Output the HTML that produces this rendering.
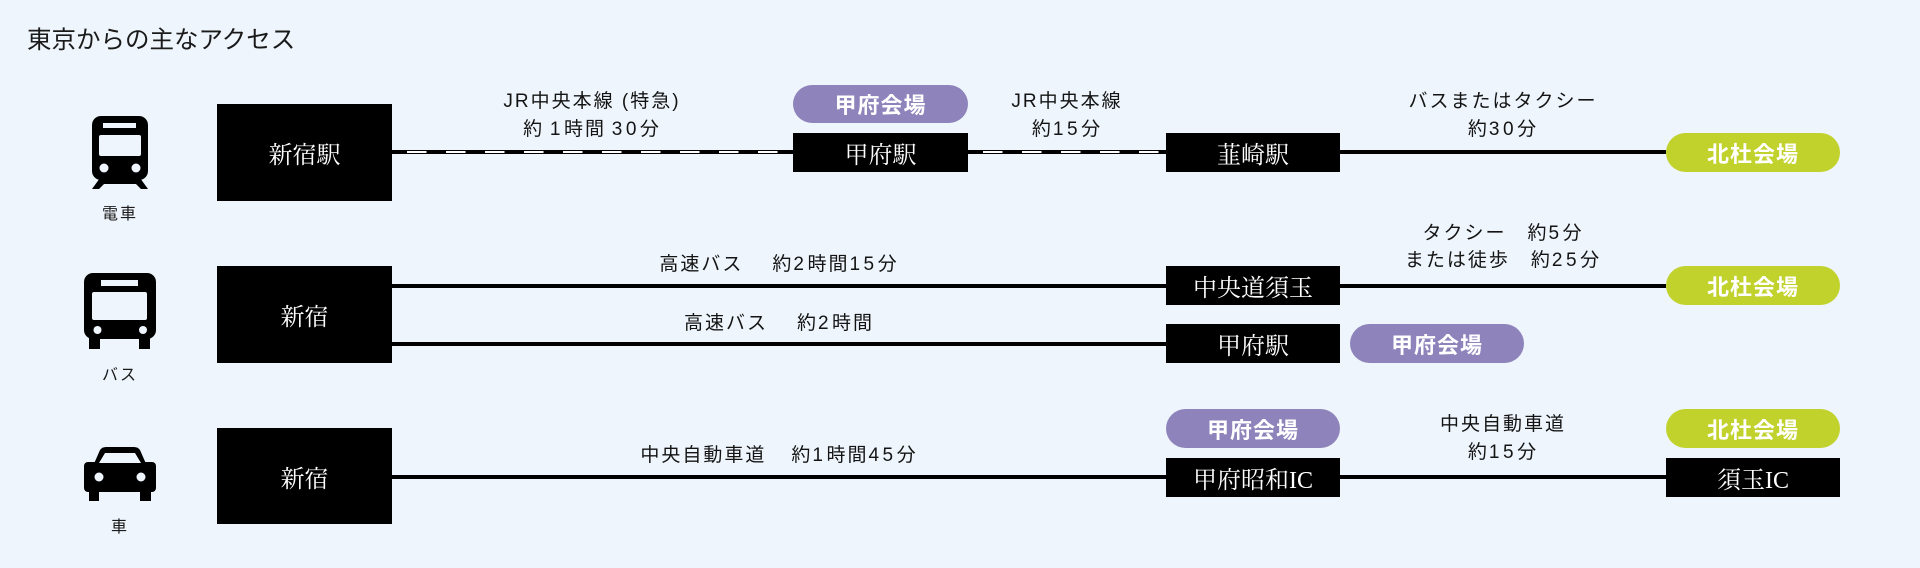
<!DOCTYPE html>
<html lang="ja">
<head>
<meta charset="utf-8">
<style>
  html,body{margin:0;padding:0;}
  body{width:1920px;height:568px;background:#eef5fc;position:relative;overflow:hidden;
       font-family:"Liberation Sans","Noto Sans CJK JP",sans-serif;color:#1e1e1e;}
  .abs{position:absolute;}
  .title{left:27px;top:25px;font-size:24.5px;line-height:32px;white-space:nowrap;color:#1a1a1a;}
  .mode{width:80px;text-align:center;font-size:16px;line-height:20px;letter-spacing:2px;color:#1a1a1a;}
  .box{position:absolute;background:#000;color:#fff;display:flex;align-items:center;justify-content:center;
       font-family:"Liberation Serif","Noto Serif CJK SC",serif;font-size:24px;white-space:nowrap;}
  .pill{position:absolute;display:flex;align-items:center;justify-content:center;border-radius:20px;color:#fff;
       font-family:"Liberation Sans","Noto Sans CJK JP",sans-serif;font-weight:bold;font-size:22px;letter-spacing:1px;white-space:nowrap;}
  .purple{background:#8e84bb;}
  .lime{background:#c1d22c;}
  .lbl{position:absolute;width:500px;text-align:center;font-size:19px;line-height:28px;letter-spacing:2px;white-space:nowrap;color:#141414;}
  .n{letter-spacing:3.5px;}
  .sp{display:inline-block;width:8px;}
  .line{position:absolute;height:4px;background:#000;}
  .dash{position:absolute;height:4px;background:#000;}
  .dash::after{content:"";position:absolute;left:0;right:0;top:1px;height:2px;
       background:repeating-linear-gradient(90deg,transparent 0 19.5px,#fff 19.5px 39px);
       background-position:-4.5px 0;}
</style>
</head>
<body>

<div class="abs title">東京からの主なアクセス</div>

<!-- icons -->
<svg class="abs" style="left:0;top:0" width="1920" height="568" viewBox="0 0 1920 568">
  <!-- train -->
  <rect x="92" y="116" width="56" height="64" rx="9" fill="#000"/>
  <rect x="103" y="123" width="33" height="5" fill="#eef5fc"/>
  <rect x="99" y="135" width="42" height="21" rx="2" fill="#eef5fc"/>
  <circle cx="104" cy="168" r="4.5" fill="#eef5fc"/>
  <circle cx="136" cy="168" r="4.5" fill="#eef5fc"/>
  <polygon points="100,178 140,178 148,189 141,189 136,184 104,184 99,189 92,189" fill="#000"/>
  <!-- bus -->
  <rect x="84" y="273" width="72" height="66" rx="9" fill="#000"/>
  <rect x="101" y="280" width="37" height="6" fill="#eef5fc"/>
  <rect x="92" y="292" width="55" height="28" rx="2" fill="#eef5fc"/>
  <circle cx="97.5" cy="330" r="4" fill="#eef5fc"/>
  <circle cx="143" cy="330" r="4" fill="#eef5fc"/>
  <rect x="89" y="336" width="11" height="13" fill="#000"/>
  <rect x="139" y="336" width="11" height="13" fill="#000"/>
  <!-- car -->
  <path d="M93 466 L100 450 Q102 447 106 447 L134 447 Q138 447 140 450 L147 466 Z" fill="#000"/>
  <rect x="84" y="462" width="72" height="30" rx="4" fill="#000"/>
  <polygon points="99,463 105,453 135,453 141,463" fill="#eef5fc"/>
  <circle cx="99" cy="477" r="4.5" fill="#eef5fc"/>
  <circle cx="141" cy="477" r="4.5" fill="#eef5fc"/>
  <rect x="89" y="489" width="10" height="12" fill="#000"/>
  <rect x="140" y="489" width="11" height="12" fill="#000"/>
</svg>

<div class="abs mode" style="left:80px;top:205px;">電車</div>
<div class="abs mode" style="left:80px;top:366px;">バス</div>
<div class="abs mode" style="left:80px;top:518px;">車</div>

<!-- ROW 1 lines -->
<div class="dash" style="left:392px;top:150px;width:401px;"></div>
<div class="dash" style="left:968px;top:150px;width:198px;"></div>
<div class="line" style="left:1340px;top:150px;width:326px;"></div>

<!-- ROW 2 lines -->
<div class="line" style="left:392px;top:284px;width:774px;"></div>
<div class="line" style="left:1340px;top:284px;width:326px;"></div>
<div class="line" style="left:392px;top:342px;width:774px;"></div>

<!-- ROW 3 lines -->
<div class="line" style="left:392px;top:475px;width:774px;"></div>
<div class="line" style="left:1340px;top:475px;width:326px;"></div>

<!-- ROW 1 nodes -->
<div class="box" style="left:217px;top:104px;width:175px;height:97px;">新宿駅</div>
<div class="pill purple" style="left:793px;top:85px;width:175px;height:38px;">甲府会場</div>
<div class="box" style="left:793px;top:133px;width:175px;height:39px;">甲府駅</div>
<div class="box" style="left:1166px;top:133px;width:174px;height:39px;">韮崎駅</div>
<div class="pill lime" style="left:1666px;top:133px;width:174px;height:39px;">北杜会場</div>

<div class="lbl" style="left:342px;top:88px;">JR中央本線 (特急)<br>約&thinsp;<span class="n">1</span>時間&thinsp;<span class="n">30</span>分</div>
<div class="lbl" style="left:817px;top:88px;">JR中央本線<br>約<span class="n">15</span>分</div>
<div class="lbl" style="left:1253px;top:88px;">バスまたはタクシー<br>約<span class="n">30</span>分</div>

<!-- ROW 2 nodes -->
<div class="box" style="left:217px;top:266px;width:175px;height:97px;">新宿</div>
<div class="box" style="left:1166px;top:266px;width:174px;height:39px;">中央道須玉</div>
<div class="box" style="left:1166px;top:324px;width:174px;height:39px;">甲府駅</div>
<div class="pill purple" style="left:1350px;top:324px;width:174px;height:39px;">甲府会場</div>
<div class="pill lime" style="left:1666px;top:266px;width:174px;height:39px;">北杜会場</div>

<div class="lbl" style="left:529px;top:251px;">高速バス　<span class="sp"></span>約<span class="n">2</span>時間<span class="n">15</span>分</div>
<div class="lbl" style="left:529px;top:310px;">高速バス　<span class="sp"></span>約<span class="n">2</span>時間</div>
<div class="lbl" style="left:1253px;top:220px;line-height:27px;">タクシー　約<span class="n">5</span>分<br>または徒歩　約<span class="n">25</span>分</div>

<!-- ROW 3 nodes -->
<div class="box" style="left:217px;top:428px;width:175px;height:96px;">新宿</div>
<div class="pill purple" style="left:1166px;top:409px;width:174px;height:39px;">甲府会場</div>
<div class="box" style="left:1166px;top:458px;width:174px;height:39px;">甲府昭和IC</div>
<div class="pill lime" style="left:1666px;top:409px;width:174px;height:39px;">北杜会場</div>
<div class="box" style="left:1666px;top:458px;width:174px;height:39px;">須玉IC</div>

<div class="lbl" style="left:529px;top:442px;">中央自動車道　<span class="sp" style="width:4px"></span>約<span class="n">1</span>時間<span class="n">45</span>分</div>
<div class="lbl" style="left:1253px;top:411px;">中央自動車道<br>約<span class="n">15</span>分</div>

</body>
</html>
